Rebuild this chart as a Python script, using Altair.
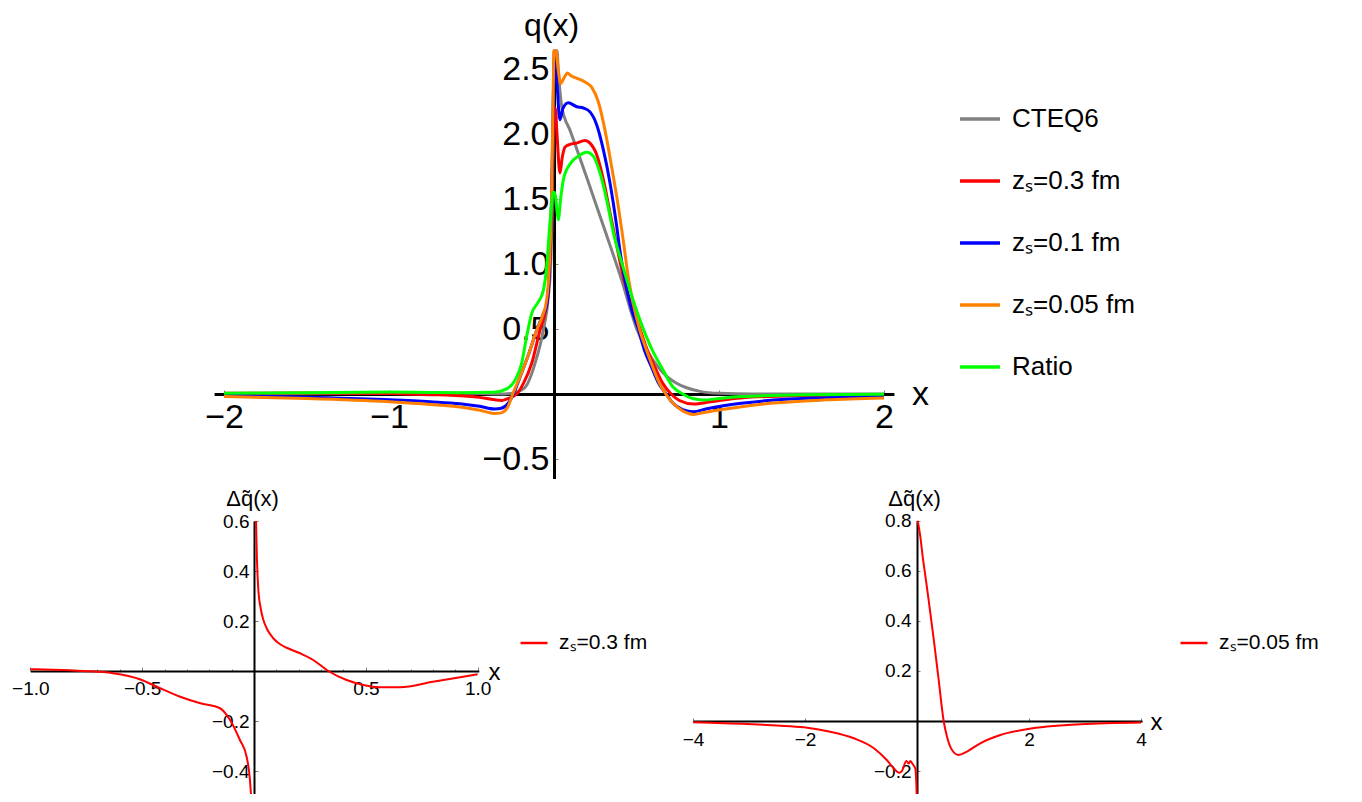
import altair as alt
import pandas as pd

W, H = 1346, 786
FONT = "Liberation Sans"

# ---------------- top panel : q(x) ----------------
top_series = ["CTEQ6", "zₛ=0.3 fm", "zₛ=0.1 fm", "zₛ=0.05 fm", "Ratio"]
top_colors = ["#808080", "#ff0000", "#0000ff", "#ff8000", "#00ff00"]

cteq_x = [-2.0, -1.0, -0.5, -0.3, -0.24, -0.176, -0.115, -0.065, -0.034, -0.02, -0.01, -0.004, 0.0,
          0.018, 0.027, 0.047, 0.1, 0.2, 0.3, 0.41, 0.5, 0.565, 0.63, 0.68, 0.74, 0.8, 0.885, 1.0, 1.2, 2.0]
cteq_y = [0.0, 0.005, 0.005, 0.0, 0.01, 0.05, 0.236, 0.49, 0.75, 1.0, 1.5, 2.2, 2.64,
          2.64, 2.47, 2.21, 2.02, 1.66, 1.29, 0.877, 0.505, 0.33, 0.21, 0.14, 0.085, 0.05, 0.02, 0.005, 0.0, 0.0]

z03_x = [-2.0, -1.5, -1.0, -0.75, -0.57, -0.45, -0.36, -0.317, -0.28, -0.226, -0.186, -0.135, -0.085,
         -0.055, -0.035, -0.02, -0.008, 0.0, 0.008, 0.018, 0.036, 0.05, 0.067, 0.097, 0.137, 0.188, 0.218,
         0.259, 0.299, 0.34, 0.39, 0.42, 0.47, 0.52, 0.565, 0.61, 0.66, 0.71, 0.76, 0.845, 0.95, 1.13, 1.5, 2.0]
z03_y = [0.005, 0.008, 0.003, -0.005, -0.013, -0.026, -0.045, -0.05, -0.035, 0.0, 0.08, 0.236, 0.49,
         0.62, 0.78, 1.2, 1.8, 2.15, 2.2, 2.0, 1.70, 1.82, 1.90, 1.92, 1.93, 1.95, 1.93,
         1.84, 1.65, 1.39, 1.08, 0.90, 0.68, 0.505, 0.34, 0.21, 0.08, 0.0, -0.05, -0.077, -0.06, -0.03, -0.012, -0.005]

z01_x = [-2.0, -1.5, -1.0, -0.75, -0.57, -0.45, -0.36, -0.32, -0.28, -0.246, -0.2, -0.15, -0.105,
         -0.07, -0.045, -0.03, -0.015, -0.005, 0.0, 0.01, 0.02, 0.036, 0.055, 0.087, 0.137, 0.178, 0.218,
         0.259, 0.299, 0.34, 0.38, 0.40, 0.43, 0.47, 0.51, 0.55, 0.59, 0.635, 0.68, 0.72, 0.78, 0.845,
         0.92, 1.026, 1.33, 1.65, 2.0]
z01_y = [-0.01, -0.025, -0.045, -0.06, -0.075, -0.095, -0.115, -0.11, -0.075, 0.0, 0.15, 0.32, 0.49,
         0.6, 0.68, 0.9, 1.5, 2.2, 2.55, 2.55, 2.35, 2.11, 2.2, 2.24, 2.21, 2.20, 2.17,
         2.07, 1.88, 1.62, 1.29, 1.10, 0.877, 0.65, 0.505, 0.33, 0.21, 0.08, 0.0, -0.07, -0.12, -0.136,
         -0.115, -0.09, -0.047, -0.028, -0.015]

z005_x = [-2.0, -1.5, -1.0, -0.75, -0.57, -0.45, -0.36, -0.32, -0.28, -0.25, -0.2, -0.15, -0.105,
          -0.07, -0.045, -0.03, -0.015, -0.005, 0.0, 0.012, 0.025, 0.04, 0.06, 0.081, 0.1, 0.137, 0.188,
          0.228, 0.268, 0.309, 0.349, 0.39, 0.42, 0.45, 0.48, 0.517, 0.56, 0.598, 0.64, 0.678, 0.72,
          0.78, 0.845, 0.92, 1.03, 1.33, 1.65, 2.0]
z005_y = [-0.02, -0.035, -0.06, -0.08, -0.10, -0.125, -0.15, -0.145, -0.10, 0.0, 0.15, 0.32, 0.49,
          0.6, 0.72, 0.95, 1.5, 2.3, 2.64, 2.64, 2.5, 2.39, 2.43, 2.47, 2.45, 2.43, 2.40,
          2.36, 2.25, 2.03, 1.75, 1.44, 1.18, 0.90, 0.70, 0.505, 0.34, 0.21, 0.08, 0.0, -0.07,
          -0.13, -0.157, -0.14, -0.118, -0.07, -0.045, -0.03]

ratio_x = [-2.0, -1.5, -1.0, -0.75, -0.57, -0.368, -0.287, -0.236, -0.196, -0.166, -0.135, -0.094, -0.064,
           -0.043, -0.028, -0.015, -0.005, 0.005, 0.015, 0.026, 0.04, 0.057, 0.097, 0.147, 0.198, 0.238,
           0.279, 0.32, 0.36, 0.42, 0.48, 0.54, 0.595, 0.65, 0.72, 0.78, 0.84, 0.905, 1.0, 1.13, 1.53, 2.0]
ratio_y = [0.005, 0.01, 0.015, 0.012, 0.01, 0.013, 0.04, 0.107, 0.236, 0.44, 0.62, 0.71, 0.80,
           1.0, 1.26, 1.45, 1.55, 1.55, 1.45, 1.34, 1.5, 1.65, 1.77, 1.83, 1.86, 1.83,
           1.70, 1.49, 1.24, 0.97, 0.72, 0.505, 0.34, 0.21, 0.056, 0.0, -0.035, -0.046, -0.035, -0.02, -0.006, -0.002]

top_xticks = [-2, -1, 1, 2]
top_yticks = [-0.5, 0.5, 1.0, 1.5, 2.0, 2.5]

# ---------------- bottom-left : Δq̃(x), zs = 0.3 fm ----------------
bl_label = ["zₛ=0.3 fm"]
bl_x = [-1.0, -0.9, -0.763, -0.63, -0.51, -0.42, -0.33, -0.24, -0.152, -0.107, -0.063, -0.033, -0.018, -0.013,
        0.009, 0.013, 0.019, 0.03, 0.042, 0.06, 0.086, 0.12, 0.146, 0.206, 0.265, 0.332, 0.414, 0.489,
        0.563, 0.653, 0.8, 1.0]
bl_y = [0.007, 0.005, 0.0, -0.009, -0.033, -0.069, -0.103, -0.129, -0.149, -0.196, -0.276, -0.343, -0.436, -0.5,
        0.6, 0.45, 0.33, 0.25, 0.204, 0.165, 0.131, 0.105, 0.093, 0.071, 0.044, 0.0, -0.036, -0.056,
        -0.065, -0.065, -0.043, -0.013]
bl_seg = ["a"] * 14 + ["b"] * 18
bl_xticks = [-1.0, -0.5, 0.5, 1.0]
bl_xminor = [-0.9, -0.8, -0.7, -0.6, -0.4, -0.3, -0.2, -0.1, 0.1, 0.2, 0.3, 0.4, 0.6, 0.7, 0.8, 0.9]
bl_yticks = [-0.4, -0.2, 0.2, 0.4, 0.6]

# ---------------- bottom-right : Δq̃(x), zs = 0.05 fm ----------------
br_label = ["zₛ=0.05 fm"]
br_x = [-4.0, -3.04, -2.5, -2.02, -1.55, -1.13, -0.77, -0.54, -0.387, -0.32, -0.27, -0.19, -0.15, -0.12,
        -0.07, -0.03, -0.012, -0.005,
        0.012, 0.06, 0.10, 0.149, 0.208, 0.30, 0.387, 0.476, 0.536, 0.625, 0.744, 0.893, 1.13, 1.49,
        1.96, 2.92, 4.0]
br_y = [-0.005, -0.012, -0.018, -0.025, -0.043, -0.069, -0.109, -0.156, -0.196, -0.207, -0.2, -0.16, -0.17, -0.16,
        -0.175, -0.19, -0.25, -0.3,
        0.8, 0.736, 0.66, 0.58, 0.483, 0.324, 0.164, 0.0, -0.063, -0.116, -0.136, -0.122, -0.089, -0.056,
        -0.033, -0.013, -0.006]
br_seg = ["a"] * 18 + ["b"] * 17
br_xticks = [-4, -2, 2, 4]
br_yticks = [-0.2, 0.2, 0.4, 0.6, 0.8]

# ---------------- panel geometry (scale ranges, px inside the view) ----------------
TOP = dict(x0=546, ux=165.0, y0=386, uy=130.0, xdom=[-2.06, 2.06], ydom=[-0.65, 2.64])
BL = dict(x0=246, ux=223.7, y0=663, uy=250.0, xdom=[-1.0, 1.005], ydom=[-0.5, 0.6])
BR = dict(x0=909, ux=56.0, y0=713, uy=250.3, xdom=[-4.0, 4.02], ydom=[-0.3, 0.8])


def xs(P):
    return alt.Scale(domain=P["xdom"], nice=False, zero=False,
                     range=[P["x0"] + P["xdom"][0] * P["ux"], P["x0"] + P["xdom"][1] * P["ux"]])


def ys(P):
    return alt.Scale(domain=P["ydom"], nice=False, zero=False,
                     range=[P["y0"] - P["ydom"][0] * P["uy"], P["y0"] - P["ydom"][1] * P["uy"]])


def main_x_axis(P, values, fmt, fs, pad, dw, title, tx, ty, tfs):
    return alt.Axis(orient="bottom", offset=P["y0"] - H, values=values, format=fmt,
                    ticks=False, tickSize=0, grid=False, domainColor="black", domainWidth=dw,
                    labelFontSize=fs, labelPadding=pad, labelColor="black", labelFont=FONT,
                    labelFlush=False, labelOverlap=False, labelBound=False,
                    title=title, titleX=tx, titleY=ty, titleAngle=0, titleAlign="center",
                    titleBaseline="alphabetic", titleFontSize=tfs, titleFontWeight="normal",
                    titleColor="black", titleFont=FONT)


def main_y_axis(P, values, fmt, fs, pad, dw, title, tx, ty, tfs):
    return alt.Axis(orient="left", offset=-P["x0"], values=values, format=fmt,
                    ticks=False, tickSize=0, grid=False, domainColor="black", domainWidth=dw,
                    labelFontSize=fs, labelPadding=pad, labelColor="black", labelFont=FONT,
                    labelFlush=False, labelOverlap=False, labelBound=False,
                    title=title, titleX=tx, titleY=ty, titleAngle=0, titleAlign="center",
                    titleBaseline="alphabetic", titleFontSize=tfs, titleFontWeight="normal",
                    titleColor="black", titleFont=FONT)


def tick_x_axis(P, values, size):
    return alt.Axis(orient="top", offset=-P["y0"], values=values, labels=False, domain=False,
                    grid=False, title=None, ticks=True, tickSize=size, tickColor="#808080", tickWidth=1)


def tick_y_axis(P, values, size):
    return alt.Axis(orient="right", offset=P["x0"] - W, values=values, labels=False, domain=False,
                    grid=False, title=None, ticks=True, tickSize=size, tickColor="#808080", tickWidth=1)


# ---------------- data frames ----------------
top_df = pd.concat([
    pd.DataFrame({"x": cteq_x, "q": cteq_y, "series": top_series[0]}),
    pd.DataFrame({"x": z03_x, "q": z03_y, "series": top_series[1]}),
    pd.DataFrame({"x": z01_x, "q": z01_y, "series": top_series[2]}),
    pd.DataFrame({"x": z005_x, "q": z005_y, "series": top_series[3]}),
    pd.DataFrame({"x": ratio_x, "q": ratio_y, "series": top_series[4]}),
], ignore_index=True)
bl_df = pd.DataFrame({"x": bl_x, "d": bl_y, "seg": bl_seg, "lbl": bl_label[0]})
br_df = pd.DataFrame({"x": br_x, "d": br_y, "seg": br_seg, "lbl": br_label[0]})
dummy = pd.DataFrame({"x": [0.0], "y": [0.0]})

# ---------------- layers ----------------
top_lines = alt.Chart(top_df).mark_line(strokeWidth=3, interpolate="monotone").encode(
    x=alt.X("x:Q", scale=xs(TOP),
            axis=main_x_axis(TOP, top_xticks, "d", 34, 6, 3, "x", 912, 10, 34)),
    y=alt.Y("q:Q", scale=ys(TOP),
            axis=main_y_axis(TOP, top_yticks, ".1f", 34, 5, 3, "q(x)", -3, 27, 32)),
    color=alt.Color("series:N", scale=alt.Scale(domain=top_series, range=top_colors),
                    legend=alt.Legend(orient="none", legendX=950, legendY=89, title=None,
                                      symbolType="stroke", symbolSize=1600, symbolStrokeWidth=3.5,
                                      labelFontSize=26, labelFont=FONT, labelColor="black",
                                      labelOffset=10, rowPadding=27)),
)
top_ticks = alt.Chart(dummy).mark_point(opacity=0).encode(
    x=alt.X("x:Q", scale=xs(TOP), axis=tick_x_axis(TOP, top_xticks, 4)),
    y=alt.Y("y:Q", scale=ys(TOP), axis=tick_y_axis(TOP, top_yticks, 4)),
)

bl_lines = alt.Chart(bl_df).mark_line(strokeWidth=2, interpolate="monotone").encode(
    x=alt.X("x:Q", scale=xs(BL),
            axis=main_x_axis(BL, bl_xticks, ".1f", 19, 8, 2, "x", 486, 8, 24)),
    y=alt.Y("d:Q", scale=ys(BL),
            axis=main_y_axis(BL, bl_yticks, ".1f", 19, 5, 2, "Δq̃(x)", -2, 497, 22)),
    detail="seg:N",
    color=alt.Color("lbl:N", scale=alt.Scale(domain=bl_label, range=["#ff0000"]),
                    legend=alt.Legend(orient="none", legendX=511, legendY=620, title=None,
                                      symbolType="stroke", symbolSize=729, symbolStrokeWidth=2.5,
                                      labelFontSize=21, labelFont=FONT, labelColor="black",
                                      labelOffset=10)),
)
bl_ticks = alt.Chart(dummy).mark_point(opacity=0).encode(
    x=alt.X("x:Q", scale=xs(BL), axis=tick_x_axis(BL, bl_xticks, 4)),
    y=alt.Y("y:Q", scale=ys(BL), axis=tick_y_axis(BL, bl_yticks, 4)),
)
bl_minor = alt.Chart(dummy).mark_point(opacity=0).encode(
    x=alt.X("x:Q", scale=xs(BL), axis=tick_x_axis(BL, bl_xminor, 2)),
    y=alt.Y("y:Q", scale=ys(BL), axis=None),
)

br_lines = alt.Chart(br_df).mark_line(strokeWidth=2, interpolate="monotone").encode(
    x=alt.X("x:Q", scale=xs(BR),
            axis=main_x_axis(BR, br_xticks, "d", 19, 9, 2, "x", 1148, 8, 24)),
    y=alt.Y("d:Q", scale=ys(BR),
            axis=main_y_axis(BR, br_yticks, ".1f", 19, 6, 2, "Δq̃(x)", -3, 497, 22)),
    detail="seg:N",
    color=alt.Color("lbl:N", scale=alt.Scale(domain=br_label, range=["#ff0000"]),
                    legend=alt.Legend(orient="none", legendX=1171, legendY=620, title=None,
                                      symbolType="stroke", symbolSize=729, symbolStrokeWidth=2.5,
                                      labelFontSize=21, labelFont=FONT, labelColor="black",
                                      labelOffset=10)),
)
br_ticks = alt.Chart(dummy).mark_point(opacity=0).encode(
    x=alt.X("x:Q", scale=xs(BR), axis=tick_x_axis(BR, br_xticks, 3)),
    y=alt.Y("y:Q", scale=ys(BR), axis=tick_y_axis(BR, br_yticks, 3)),
)

chart = alt.layer(
    top_ticks, bl_ticks, bl_minor, br_ticks, top_lines, bl_lines, br_lines
).resolve_scale(
    x="independent", y="independent", color="independent"
).properties(
    width=W, height=H, padding=0, autosize=alt.AutoSizeParams(type="none"), background="white"
).configure(font=FONT, view=alt.ViewConfig(stroke=None))

chart.save("out.html", embed_options={"renderer": "svg", "actions": False})
